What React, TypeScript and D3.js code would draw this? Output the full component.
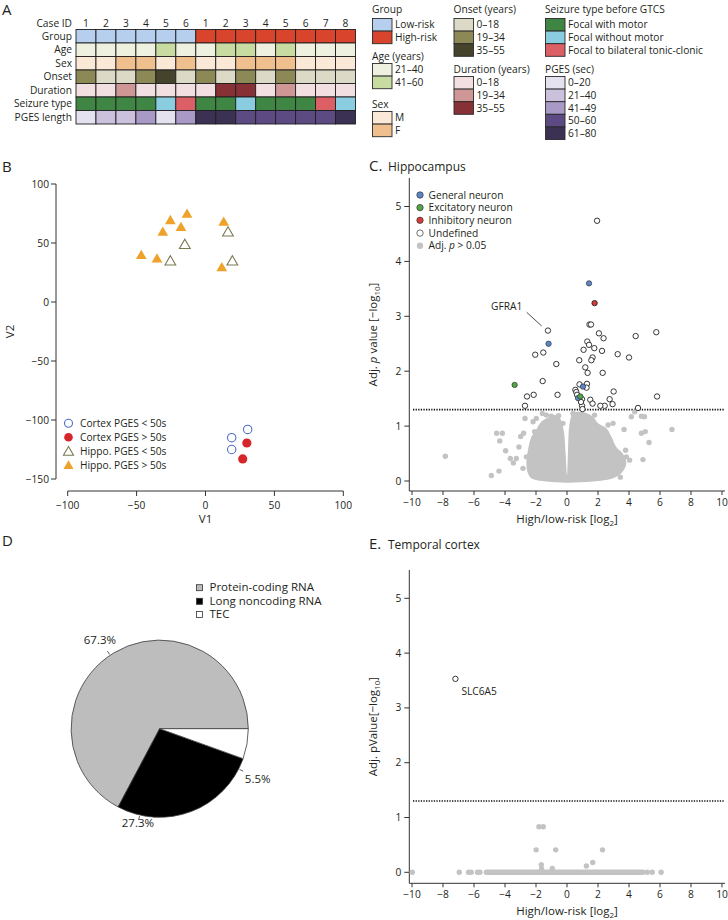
import React from "react";
import * as d3 from "d3";

const FONT = "'Open Sans', 'Noto Sans', 'DejaVu Sans', sans-serif";
const TXT = "#231f20";
const FS = 10.2;

// ---------------- Panel A data ----------------
const caseIds = ["1", "2", "3", "4", "5", "6", "1", "2", "3", "4", "5", "6", "7", "8"];
const rowNames = ["Group", "Age", "Sex", "Onset", "Duration", "Seizure type", "PGES length"];
const groupValues = ["Low-risk", "Low-risk", "Low-risk", "Low-risk", "Low-risk", "Low-risk", "High-risk", "High-risk", "High-risk", "High-risk", "High-risk", "High-risk", "High-risk", "High-risk"];
const ageValues = ["21–40", "21–40", "21–40", "21–40", "41–60", "21–40", "21–40", "41–60", "41–60", "21–40", "41–60", "21–40", "21–40", "21–40"];
const sexValues = ["M", "M", "F", "F", "M", "F", "M", "M", "F", "F", "F", "M", "M", "M"];
const onsetValues = ["19–34", "0–18", "0–18", "19–34", "35–55", "0–18", "19–34", "0–18", "19–34", "0–18", "19–34", "0–18", "0–18", "0–18"];
const durationValues = ["0–18", "0–18", "19–34", "0–18", "0–18", "0–18", "0–18", "35–55", "35–55", "0–18", "19–34", "0–18", "0–18", "0–18"];
const seizureValues = ["Focal with motor", "Focal with motor", "Focal with motor", "Focal with motor", "Focal without motor", "Focal to bilateral tonic-clonic", "Focal with motor", "Focal with motor", "Focal without motor", "Focal with motor", "Focal with motor", "Focal with motor", "Focal to bilateral tonic-clonic", "Focal without motor"];
const pgesValues = ["0–20", "21–40", "21–40", "41–49", "0–20", "41–49", "61–80", "61–80", "50–60", "50–60", "50–60", "50–60", "50–60", "61–80"];

const groupLevels = ["Low-risk", "High-risk"];
const ageLevels = ["21–40", "41–60"];
const sexLevels = ["M", "F"];
const onsetLevels = ["0–18", "19–34", "35–55"];
const durationLevels = ["0–18", "19–34", "35–55"];
const seizureLevels = ["Focal with motor", "Focal without motor", "Focal to bilateral tonic-clonic"];
const pgesLevels = ["0–20", "21–40", "41–49", "50–60", "61–80"];

// ---------------- Panel B data (V1, V2) ----------------
const cortexLow: [number, number][] = [[30.6, -108], [19, -115], [19, -125]];
const cortexHigh: [number, number][] = [[30, -119.5], [27, -133]];
const hippoLow: [number, number][] = [[-25.5, 34], [-15, 48], [16.3, 58.5], [19.5, 34]];
const hippoHigh: [number, number][] = [[-46.6, 39], [-35.2, 36], [-31, 58.8], [-25.5, 68.6], [-17.8, 62.7], [-13.4, 74], [13.2, 67.3], [11.8, 28.6]];
const pcaLegend = ["Cortex PGES < 50s", "Cortex PGES > 50s", "Hippo. PGES < 50s", "Hippo. PGES > 50s"];

// ---------------- Panel C data (log2 FC, -log10 adj p) ----------------
const hippoUndefined: [number, number][] = [
  [1.94, 4.74], [1.45, 2.85], [1.55, 2.85], [-1.23, 2.74], [-2.05, 2.3], [-1.53, 2.34], [-0.69, 2.13], [-1.57, 1.82],
  [-2.58, 1.54], [-2.15, 1.57], [-0.61, 1.57], [-2.71, 1.37], [5.81, 1.54], [5.76, 2.71], [4.43, 2.64], [4.0, 2.25],
  [3.27, 2.31], [2.06, 2.69], [2.36, 2.6], [1.31, 2.54], [1.42, 2.48], [1.76, 2.42], [2.26, 2.37], [1.07, 2.39],
  [0.79, 2.2], [1.65, 2.25], [1.57, 2.2], [1.18, 2.07], [1.33, 1.97], [2.3, 1.97], [3.01, 1.63], [2.75, 1.49],
  [2.94, 1.4], [2.43, 1.37], [2.15, 1.37], [4.58, 1.33], [0.54, 1.66], [0.6, 1.62], [0.65, 1.57], [0.81, 1.76],
  [1.29, 1.77], [1.26, 1.7], [0.97, 1.49], [1.5, 1.48], [1.65, 1.41], [0.97, 1.37], [1.0, 1.31], [0.9, 1.44],
];
const hippoGeneral: [number, number][] = [[1.42, 3.6], [-1.19, 2.5], [1.03, 1.72], [0.71, 1.51]];
const hippoExcitatory: [number, number][] = [[-3.38, 1.75], [0.86, 1.54]];
const hippoInhibitory: [number, number][] = [[1.78, 3.24]];
const hippoCloudOutline: [number, number][] = [
  [-2.3, 0.05], [-1.33, -0.01], [0, -0.03], [1.68, -0.01], [2.97, 0.05], [3.5, 0.14], [3.83, 0.32], [3.6, 0.5],
  [3.18, 0.62], [2.86, 0.81], [2.54, 0.96], [2.0, 1.05], [1.68, 1.17], [1.25, 1.24], [0.82, 1.26], [0.39, 1.24],
  [0.17, 1.05], [0.06, 0.5], [0.0, 0.11], [-0.09, 0.5], [-0.22, 0.93], [-0.47, 1.15], [-0.8, 1.2], [-1.23, 1.15],
  [-1.66, 1.08], [-1.98, 0.94], [-2.3, 0.8], [-2.52, 0.56], [-2.62, 0.32], [-2.52, 0.14],
];
const hippoGrayPoints: [number, number][] = [
  [-7.85, 0.45], [-4.88, 0.1], [-4.39, 0.18], [-4.54, 0.87], [-4.17, 0.87], [-4.34, 0.73], [-3.96, 0.55], [-3.66, 0.41],
  [-3.46, 0.33], [-2.8, 0.87], [-2.99, 0.81], [-3.1, 0.62], [-2.71, 1.14], [-2.19, 1.08], [-1.98, 1.14], [-1.59, 1.23],
  [-1.33, 1.2], [-1.01, 1.18], [-0.54, 1.19], [-0.26, 1.05], [0.39, 1.23], [0.71, 1.2], [1.25, 1.17], [1.78, 1.2],
  [2.65, 1.02], [2.97, 1.05], [3.68, 0.94], [4.15, 1.17], [4.37, 1.26], [4.8, 1.18], [5.0, 1.17], [4.8, 0.87],
  [5.05, 0.9], [5.29, 0.7], [6.77, 0.94], [4.9, 0.39], [4.04, 0.38], [3.44, 0.07], [3.18, 0.5], [3.78, 0.56],
  [3.83, 0.44], [-2.09, 0.9], [-2.62, 0.44], [-3.27, 0.41], [-2.84, 0.23],
];

// ---------------- Panel D data ----------------
const rnaTypes = ["Protein-coding RNA", "Long noncoding RNA", "TEC"];
const rnaShares = [67.3, 27.3, 5.5];

// ---------------- Panel E data ----------------
const cortexLabelled: [number, number][] = [[-7.2, 3.53]];
const cortexZeroBand: [number, number] = [-5.2, 4.9];
const cortexGrayPoints: [number, number][] = [
  [-9.98, 0], [-6.95, 0], [-6.35, 0], [-6.18, 0], [-5.77, 0], [-5.62, 0], [5.18, 0], [5.5, 0], [6.07, 0],
  [-1.81, 0.83], [-1.53, 0.83], [-1.99, 0.41], [-0.73, 0.41], [2.29, 0.41], [-1.66, 0.14], [-1.64, 0.06],
  [-0.95, 0.07], [1.25, 0.115], [1.66, 0.18],
];

const xTicksFC = d3.range(-10, 11, 2);
const yTicksP = [0, 1, 2, 3, 4, 5];

// colour palettes
const groupColor = d3.scaleOrdinal<string, string>(groupLevels, ["#b6cfee", "#d8452c"]);
const ageColor = d3.scaleOrdinal<string, string>(ageLevels, ["#eef1e0", "#c8dba0"]);
const sexColor = d3.scaleOrdinal<string, string>(sexLevels, ["#fbe9d8", "#efbf8d"]);
const onsetColor = d3.scaleOrdinal<string, string>(onsetLevels, ["#dcdac6", "#8d8957", "#45432c"]);
const durationColor = d3.scaleOrdinal<string, string>(durationLevels, ["#f2dfe1", "#cf9696", "#873035"]);
const seizureColor = d3.scaleOrdinal<string, string>(seizureLevels, ["#3f8544", "#8bcde0", "#dc5f66"]);
const pgesColor = d3.scaleOrdinal<string, string>(pgesLevels, ["#e5e2ef", "#cbc1dd", "#a999c7", "#5d4a83", "#3a3153"]);

function PanelA() {
  const xs = d3.scaleBand<number>().domain(d3.range(caseIds.length)).range([76, 355.5]);
  const ys = d3.scaleBand<string>().domain(rowNames).range([29.5, 124]);
  const rows = [
    { vals: groupValues, col: groupColor },
    { vals: ageValues, col: ageColor },
    { vals: sexValues, col: sexColor },
    { vals: onsetValues, col: onsetColor },
    { vals: durationValues, col: durationColor },
    { vals: seizureValues, col: seizureColor },
    { vals: pgesValues, col: pgesColor },
  ];
  const legends = [
    { title: "Group", levels: groupLevels, col: groupColor, x: 372, ty: 9.5, top: 18.5 },
    { title: "Age (years)", levels: ageLevels, col: ageColor, x: 372, ty: 56, top: 63.5 },
    { title: "Sex", levels: sexLevels, col: sexColor, x: 372, ty: 104, top: 111.5 },
    { title: "Onset (years)", levels: onsetLevels, col: onsetColor, x: 453.5, ty: 9.5, top: 18.5 },
    { title: "Duration (years)", levels: durationLevels, col: durationColor, x: 453.5, ty: 69, top: 76.5 },
    { title: "Seizure type before GTCS", levels: seizureLevels, col: seizureColor, x: 545, ty: 9.5, top: 18.5 },
    { title: "PGES (sec)", levels: pgesLevels, col: pgesColor, x: 545, ty: 69, top: 76.5 },
  ];
  const sh = 12.6;
  return (
    <g>
      <text x={2} y={15} fontSize={15} fill={TXT}>A</text>
      <text x={72} y={23.5} dy="0.35em" fontSize={FS} textAnchor="end" fill={TXT}>Case ID</text>
      {caseIds.map((c, i) => (
        <text key={i} x={xs(i)! + xs.bandwidth() / 2} y={23.5} dy="0.35em" fontSize={FS} textAnchor="middle" fill={TXT}>{c}</text>
      ))}
      {rowNames.map((r, ri) => (
        <g key={r}>
          <text x={72} y={ys(r)! + ys.bandwidth() / 2} dy="0.35em" fontSize={FS} textAnchor="end" fill={TXT}>{r}</text>
          {rows[ri].vals.map((v, i) => (
            <rect key={i} x={xs(i)} y={ys(r)} width={xs.bandwidth()} height={ys.bandwidth()} fill={rows[ri].col(v)} stroke="#1e1e1e" strokeWidth={0.9} />
          ))}
        </g>
      ))}
      {legends.map((lg) => (
        <g key={lg.title}>
          <text x={lg.x} y={lg.ty} dy="0.35em" fontSize={FS} fill={TXT}>{lg.title}</text>
          {lg.levels.map((lv, i) => (
            <g key={lv}>
              <rect x={lg.x + 0.5} y={lg.top + i * sh} width={19.5} height={sh} fill={lg.col(lv)} stroke="#2a2a2a" strokeWidth={0.9} />
              <text x={lg.x + 23} y={lg.top + i * sh + sh / 2} dy="0.35em" fontSize={FS} fill={TXT}>{lv}</text>
            </g>
          ))}
        </g>
      ))}
    </g>
  );
}

function PanelB() {
  const x = d3.scaleLinear().domain([-100, 100]).range([67.7, 343.3]);
  const y = d3.scaleLinear().domain([-150, 100]).range([479, 184]);
  const tri = d3.symbol(d3.symbolTriangle, 50)()!;
  const triL = d3.symbol(d3.symbolTriangle, 44)()!;
  const yAxisX = 56;
  const xAxisY = 491;
  const orange = "#eea229";
  const olive = "#7a7a52";
  const blue = "#4f6fc4";
  const red = "#d7262b";
  const legY = [423.3, 437.3, 451.3, 465];
  return (
    <g>
      <text x={2} y={172} fontSize={15} fill={TXT}>B</text>
      <line x1={yAxisX} x2={yAxisX} y1={y(100)} y2={y(-150)} stroke="#333" strokeWidth={1} />
      {y.ticks(5).map((t) => (
        <g key={t}>
          <line x1={yAxisX - 5} x2={yAxisX} y1={y(t)} y2={y(t)} stroke="#333" />
          <text x={yAxisX - 7} y={y(t)} dy="0.35em" fontSize={FS} textAnchor="end" fill={TXT}>{d3.format("")(t)}</text>
        </g>
      ))}
      <line x1={x(-100)} x2={x(100)} y1={xAxisY} y2={xAxisY} stroke="#333" strokeWidth={1} />
      {x.ticks(4).map((t) => (
        <g key={t}>
          <line x1={x(t)} x2={x(t)} y1={xAxisY} y2={xAxisY + 5} stroke="#333" />
          <text x={x(t)} y={xAxisY + 14} dy="0.35em" fontSize={FS} textAnchor="middle" fill={TXT}>{d3.format("")(t)}</text>
        </g>
      ))}
      <text x={x(0)} y={xAxisY + 28} dy="0.35em" fontSize={11.5} textAnchor="middle" fill={TXT}>V1</text>
      <text transform={`translate(10,${y(-25)}) rotate(-90)`} dy="0.35em" fontSize={11.5} textAnchor="middle" fill={TXT}>V2</text>
      {hippoLow.map((d, i) => (
        <path key={"hl" + i} d={tri} transform={`translate(${x(d[0])},${y(d[1])})`} fill="none" stroke={olive} strokeWidth={1.1} />
      ))}
      {hippoHigh.map((d, i) => (
        <path key={"hh" + i} d={tri} transform={`translate(${x(d[0])},${y(d[1])})`} fill={orange} />
      ))}
      {cortexLow.map((d, i) => (
        <circle key={"cl" + i} cx={x(d[0])} cy={y(d[1])} r={4.2} fill="none" stroke={blue} strokeWidth={1.1} />
      ))}
      {cortexHigh.map((d, i) => (
        <circle key={"ch" + i} cx={x(d[0])} cy={y(d[1])} r={4.6} fill={red} />
      ))}
      {pcaLegend.map((l, i) => (
        <g key={l}>
          {i === 0 && <circle cx={68.5} cy={legY[i]} r={4} fill="none" stroke={blue} strokeWidth={1.1} />}
          {i === 1 && <circle cx={68.5} cy={legY[i]} r={4.3} fill={red} />}
          {i === 2 && <path d={triL} transform={`translate(68.5,${legY[i] + 1})`} fill="none" stroke={olive} strokeWidth={1.1} />}
          {i === 3 && <path d={triL} transform={`translate(68.5,${legY[i] + 1})`} fill={orange} />}
          <text x={80} y={legY[i]} dy="0.35em" fontSize={FS} fill={TXT}>{l}</text>
        </g>
      ))}
    </g>
  );
}

function VolcanoAxes({ x, y, axisTop, xAxisY, ylabel, titleLetter, title, titleY }: any) {
  const yAxisX = 409.3;
  const cy = (axisTop + xAxisY) / 2;
  return (
    <g>
      <text x={369} y={titleY} fontSize={15} fill={TXT}>{titleLetter}</text>
      <text x={388} y={titleY} fontSize={12} fill={TXT}>{title}</text>
      <line x1={yAxisX} x2={yAxisX} y1={axisTop} y2={xAxisY} stroke="#333" strokeWidth={1} />
      {yTicksP.map((t) => (
        <g key={t}>
          <line x1={yAxisX - 5} x2={yAxisX} y1={y(t)} y2={y(t)} stroke="#333" />
          <text x={yAxisX - 8} y={y(t)} dy="0.35em" fontSize={FS} textAnchor="end" fill={TXT}>{t}</text>
        </g>
      ))}
      <line x1={yAxisX} x2={725} y1={xAxisY} y2={xAxisY} stroke="#333" strokeWidth={1} />
      {xTicksFC.map((t) => (
        <g key={t}>
          <line x1={x(t)} x2={x(t)} y1={xAxisY} y2={xAxisY + 4} stroke="#333" />
          <text x={x(t)} y={xAxisY + 11} dy="0.35em" fontSize={FS} textAnchor="middle" fill={TXT}>{d3.format("")(t)}</text>
        </g>
      ))}
      <text x={x(0)} y={xAxisY + 28} dy="0.35em" fontSize={11.5} textAnchor="middle" fill={TXT}>
        High/low-risk [log<tspan dy={3} fontSize={8}>2</tspan><tspan dy={-3}>]</tspan>
      </text>
      <text transform={`translate(373,${cy}) rotate(-90)`} dy="0.35em" fontSize={11.5} textAnchor="middle" fill={TXT}>
        {ylabel}
      </text>
      <line x1={413} x2={725} y1={y(1.301)} y2={y(1.301)} stroke="#111" strokeWidth={1.6} strokeDasharray="1.3 1.3" />
    </g>
  );
}

function PanelC() {
  const x = d3.scaleLinear().domain([-10, 10]).range([412, 722]);
  const y = d3.scaleLinear().domain([0, 5]).range([481, 206.5]);
  const gray = "#c3c3c3";
  const cloud = d3.line<[number, number]>().x((d) => x(d[0])).y((d) => y(d[1])).curve(d3.curveCatmullRomClosed.alpha(0.5));
  const legY = [195, 207.6, 220.3, 233.1, 245.8];
  const legCols = ["#5b86c8", "#52a545", "#d63a3a", "#fff", gray];
  const legLabels = ["General neuron", "Excitatory neuron", "Inhibitory neuron", "Undefined"];
  const r = 2.7;
  return (
    <g>
      <VolcanoAxes x={x} y={y} axisTop={178} xAxisY={491} titleLetter="C." title="Hippocampus" titleY={171}
        ylabel={<>Adj. <tspan fontStyle="italic">p</tspan> value [−log<tspan dy={3} fontSize={8}>10</tspan><tspan dy={-3}>]</tspan></>} />
      <path d={cloud(hippoCloudOutline)!} fill={gray} />
      {hippoGrayPoints.map((d, i) => (
        <circle key={i} cx={x(d[0])} cy={y(d[1])} r={r} fill={gray} />
      ))}
      {hippoUndefined.map((d, i) => (
        <circle key={"u" + i} cx={x(d[0])} cy={y(d[1])} r={r} fill="#fff" stroke="#222" strokeWidth={0.9} />
      ))}
      {hippoGeneral.map((d, i) => (
        <circle key={"g" + i} cx={x(d[0])} cy={y(d[1])} r={r} fill="#5b86c8" stroke="#222" strokeWidth={0.6} />
      ))}
      {hippoExcitatory.map((d, i) => (
        <circle key={"e" + i} cx={x(d[0])} cy={y(d[1])} r={r} fill="#52a545" stroke="#222" strokeWidth={0.6} />
      ))}
      {hippoInhibitory.map((d, i) => (
        <circle key={"i" + i} cx={x(d[0])} cy={y(d[1])} r={r} fill="#d63a3a" stroke="#222" strokeWidth={0.9} />
      ))}
      <text x={506.7} y={306} dy="0.35em" fontSize={FS} textAnchor="middle" fill={TXT}>GFRA1</text>
      <line x1={526.7} y1={312.3} x2={541.7} y2={326} stroke="#222" strokeWidth={0.8} />
      {legY.map((ly, i) => (
        <g key={i}>
          <circle cx={420} cy={ly} r={3.2} fill={legCols[i]} stroke={i === 4 ? "none" : "#333"} strokeWidth={0.7} />
          <text x={428.5} y={ly} dy="0.35em" fontSize={FS} fill={TXT}>
            {i < 4 ? legLabels[i] : <>Adj. <tspan fontStyle="italic">p</tspan> &gt; 0.05</>}
          </text>
        </g>
      ))}
    </g>
  );
}

function PanelD() {
  const cx = 159.7, cy = 728.7, R = 88.6;
  const pie = d3.pie<number>().sort(null).startAngle(Math.PI / 2).endAngle(Math.PI / 2 - 2 * Math.PI);
  const arcs = pie(rnaShares);
  const arc = d3.arc<d3.PieArcDatum<number>>().innerRadius(0).outerRadius(R);
  const fills = ["#bdbdbd", "#000", "#fff"];
  const labelAngles = [-34, 193, 117].map((a) => (a * Math.PI) / 180);
  const labelR = [107, 97, 110];
  const legY = [587.7, 601.3, 614.5];
  return (
    <g>
      <text x={2} y={546} fontSize={15} fill={TXT}>D</text>
      {rnaTypes.map((t, i) => (
        <g key={t}>
          <rect x={196.5} y={legY[i] - 3} width={6} height={6} fill={fills[i]} stroke="#333" strokeWidth={0.8} />
          <text x={209.5} y={legY[i]} dy="0.33em" fontSize={11.5} fill={TXT}>{t}</text>
        </g>
      ))}
      <g transform={`translate(${cx},${cy})`}>
        {arcs.map((a, i) => (
          <path key={i} d={arc(a)!} fill={fills[i]} stroke="#3a3a3a" strokeWidth={0.8} />
        ))}
        {arcs.map((a, i) => {
          const ang = labelAngles[i];
          const s = Math.sin(ang), c = -Math.cos(ang);
          return (
            <g key={"l" + i}>
              <line x1={s * (R + 1)} y1={c * (R + 1)} x2={s * (R + 5)} y2={c * (R + 5)} stroke="#333" strokeWidth={0.8} />
              <text x={s * labelR[i]} y={c * labelR[i]} dy="0.35em" fontSize={11.5} textAnchor="middle" fill={TXT}>
                {d3.format(".1f")(rnaShares[i])}%
              </text>
            </g>
          );
        })}
      </g>
    </g>
  );
}

function PanelE() {
  const x = d3.scaleLinear().domain([-10, 10]).range([412, 722]);
  const y = d3.scaleLinear().domain([0, 5]).range([872.3, 598.3]);
  const gray = "#c3c3c3";
  const r = 2.7;
  return (
    <g>
      <VolcanoAxes x={x} y={y} axisTop={570} xAxisY={883.3} titleLetter="E." title="Temporal cortex" titleY={549}
        ylabel={<>Adj. pValue[−log<tspan dy={3} fontSize={8}>10</tspan><tspan dy={-3}>]</tspan></>} />
      <line x1={x(cortexZeroBand[0])} x2={x(cortexZeroBand[1])} y1={y(0)} y2={y(0)} stroke={gray} strokeWidth={2 * r} strokeLinecap="round" />
      {cortexGrayPoints.map((d, i) => (
        <circle key={i} cx={x(d[0])} cy={y(d[1])} r={r} fill={gray} />
      ))}
      {cortexLabelled.map((d, i) => (
        <g key={"s" + i}>
          <circle cx={x(d[0])} cy={y(d[1])} r={r} fill="#fff" stroke="#222" strokeWidth={0.9} />
          <text x={x(d[0]) + 6} y={y(d[1]) + 13} dy="0.35em" fontSize={FS} fill={TXT}>SLC6A5</text>
        </g>
      ))}
    </g>
  );
}

export default function App() {
  return (
    <svg width={728} height={920} style={{ position: "absolute", left: 0, top: 0, display: "block" }} fontFamily={FONT}>
      <rect width={728} height={920} fill="#fff" />
      <PanelA />
      <PanelB />
      <PanelC />
      <PanelD />
      <PanelE />
    </svg>
  );
}
